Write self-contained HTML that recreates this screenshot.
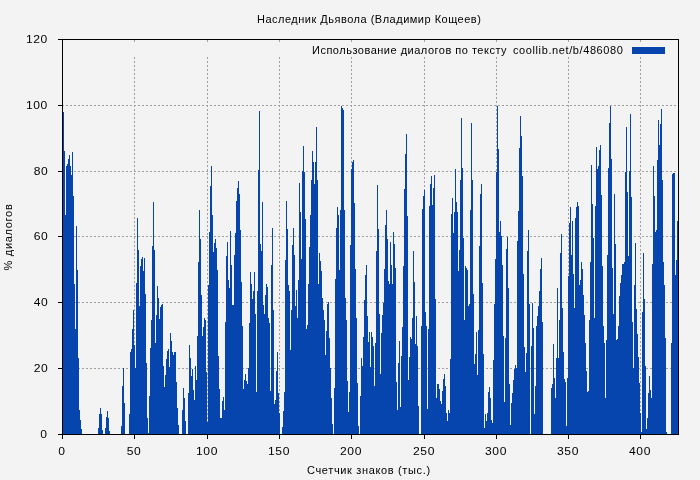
<!DOCTYPE html>
<html><head><meta charset="utf-8">
<style>
html,body{margin:0;padding:0;}
body{width:700px;height:480px;background:#f3f3f3;overflow:hidden;position:relative;font-family:"Liberation Sans",sans-serif;color:#000;}
svg{position:absolute;left:0;top:0;}
.t{position:absolute;white-space:nowrap;font-size:11px;line-height:12px;will-change:transform;}
</style></head><body>
<svg width="700" height="480" viewBox="0 0 700 480">
<g shape-rendering="crispEdges">
<!-- grid -->
<g stroke="#a0a0a0" stroke-width="1" stroke-dasharray="2,2" fill="none">
<path d="M62 368.5H678M62 302.5H678M62 236.5H678M62 171.5H678M62 105.5H678"/>
<path d="M134.5 435V57M207.5 435V57M279.5 435V57M351.5 435V57M424.5 435V57M496.5 435V57M568.5 435V57M640.5 435V57"/>
<path d="M134.5 40V42M207.5 40V42M279.5 40V42M351.5 40V42M424.5 40V42M496.5 40V42M568.5 40V42M640.5 40V42"/>
</g>
<!-- data -->
<path fill="#0645ad" d="M63 435V112H64V151H65V215H66V166H67V164H68V159H69V155H70V166H71V175H72V152H73V196H74V284H75V329H76V226H77V270H78V358H79V410H80V420H81V429H82V434H83V434H84V434H85V434H86V434H87V434H88V434H89V434H90V434H91V434H92V434H93V434H94V434H95V434H96V434H97V434H98V428H99V414H100V408H101V414H102V430H103V434H104V434H105V428H106V417H107V411H108V418H109V431H110V434H111V434H112V434H113V434H114V434H115V434H116V434H117V434H118V434H119V434H120V434H121V426H122V386H123V368H124V403H125V434H126V434H127V434H128V434H129V414H130V352H131V349H132V329H133V310H134V345H135V368H136V283H137V218H138V250H139V306H140V266H141V259H142V257H143V271H144V258H145V294H146V363H147V418H148V433H149V396H150V348H151V320H152V246H153V202H154V250H155V343H156V315H157V286H158V298H159V319H160V307H161V305H162V304H163V366H164V387H165V375H166V359H167V351H168V349H169V367H170V333H171V341H172V352H173V355H174V352H175V352H176V382H177V408H178V425H179V434H180V434H181V434H182V410H183V388H184V398H185V421H186V434H187V434H188V393H189V345H190V358H191V376H192V369H193V390H194V400H195V366H196V380H197V336H198V262H199V210H200V239H201V295H202V336H203V327H204V318H205V320H206V372H207V422H208V285H209V232H210V186H211V166H212V215H213V252H214V243H215V239H216V248H217V270H218V356H219V389H220V418H221V418H222V401H223V397H224V410H225V322H226V256H227V242H228V280H229V288H230V231H231V265H232V305H233V305H234V255H235V233H236V201H237V188H238V181H239V194H240V230H241V282H242V326H243V389H244V380H245V374H246V381H247V384H248V368H249V323H250V272H251V284H252V299H253V291H254V272H255V314H256V392H257V291H258V170H259V111H260V244H261V251H262V202H263V305H264V314H265V295H266V284H267V287H268V318H269V323H270V391H271V265H272V228H273V310H274V404H275V400H276V371H277V352H278V393H279V413H280V434H281V434H282V427H283V411H284V392H285V260H286V201H287V229H288V285H289V291H290V350H291V310H292V245H293V228H294V255H295V306H296V290H297V318H298V280H299V183H300V212H301V259H302V171H303V146H304V172H305V219H306V329H307V325H308V284H309V247H310V215H311V180H312V151H313V162H314V184H315V162H316V127H317V180H318V284H319V253H320V261H321V271H322V298H323V310H324V320H325V355H326V331H327V304H328V302H329V338H330V368H331V398H332V424H333V434H334V388H335V279H336V228H337V207H338V215H339V270H340V210H341V106H342V108H343V110H344V210H345V298H346V320H347V381H348V412H349V392H350V245H351V169H352V162H353V160H354V203H355V269H356V318H357V383H358V426H359V434H360V396H361V358H362V366H363V337H364V300H365V275H366V265H367V316H368V342H369V332H370V367H371V332H372V337H373V346H374V386H375V343H376V251H377V185H378V229H379V314H380V374H381V333H382V315H383V303H384V269H385V225H386V210H387V239H388V281H389V284H390V242H391V265H392V284H393V232H394V244H395V268H396V382H397V410H398V363H399V341H400V407H401V356H402V327H403V266H404V189H405V154H406V134H407V216H408V380H409V357H410V337H411V339H412V318H413V251H414V282H415V344H416V316H417V346H418V406H419V434H420V434H421V326H422V209H423V196H424V190H425V312H426V326H427V409H428V329H429V206H430V184H431V176H432V205H433V188H434V175H435V299H436V398H437V384H438V384H439V389H440V401H441V404H442V391H443V379H444V374H445V386H446V413H447V421H448V410H449V413H450V359H451V214H452V198H453V233H454V212H455V169H456V202H457V212H458V271H459V250H460V180H461V118H462V168H463V238H464V320H465V266H466V268H467V270H468V306H469V304H470V210H471V123H472V180H473V294H474V364H475V354H476V332H477V375H478V330H479V246H480V194H481V184H482V283H483V354H484V428H485V414H486V421H487V413H488V392H489V387H490V398H491V420H492V423H493V360H494V304H495V259H496V172H497V106H498V149H499V232H500V221H501V236H502V265H503V336H504V402H505V338H506V249H507V237H508V288H509V384H510V425H511V403H512V393H513V380H514V369H515V365H516V368H517V241H518V211H519V148H520V116H521V136H522V176H523V274H524V347H525V372H526V353H527V251H528V230H529V304H530V434H531V346H532V303H533V328H534V414H535V386H536V326H537V316H538V306H539V291H540V269H541V258H542V322H543V434H544V434H545V434H546V434H547V434H548V434H549V434H550V434H551V388H552V384H553V344H554V378H555V398H556V358H557V288H558V358H559V320H560V253H561V234H562V308H563V352H564V379H565V382H566V426H567V378H568V276H569V223H570V207H571V255H572V221H573V274H574V308H575V218H576V207H577V202H578V206H579V285H580V280H581V262H582V269H583V295H584V315H585V343H586V371H587V392H588V391H589V320H590V262H591V165H592V204H593V238H594V318H595V206H596V147H597V169H598V166H599V150H600V145H601V195H602V266H603V326H604V343H605V398H606V340H607V255H608V168H609V123H610V106H611V159H612V268H613V314H614V194H615V244H616V340H617V339H618V326H619V296H620V283H621V275H622V264H623V264H624V262H625V172H626V127H627V192H628V256H629V171H630V114H631V197H632V322H633V368H634V285H635V243H636V309H637V334H638V357H639V383H640V413H641V432H642V312H643V253H644V299H645V366H646V429H647V418H648V393H649V376H650V390H651V398H652V264H653V166H654V196H655V232H656V230H657V160H658V120H659V145H660V124H661V109H662V180H663V262H664V285H665V338H666V432H667V434H668V434H669V434H670V434H671V343H672V174H673V173H674V173H675V275H676V260H677V221H678V435Z"/>
<!-- legend swatch -->
<rect x="632" y="47" width="33" height="7" fill="#0645ad"/>
<!-- axes -->
<g stroke="#000" stroke-width="1" fill="none">
<path d="M62.5 39.5H678.5V434.5H62.5Z"/>
<path d="M58 434.5H62M58 368.5H62M58 302.5H62M58 236.5H62M58 171.5H62M58 105.5H62M58 39.5H62"/>
<path d="M62.5 434V439M134.5 434V439M207.5 434V439M279.5 434V439M351.5 434V439M424.5 434V439M496.5 434V439M568.5 434V439M640.5 434V439"/>
</g>
</g>
</svg>
<div class="t" id="title" style="left:257px;top:13px;letter-spacing:0.5px;">Наследник Дьявола (Владимир Кощеев)</div>
<div class="t" id="leg1" style="left:312px;top:44px;letter-spacing:0.5px;">Использование диалогов по тексту</div>
<div class="t" id="leg2" style="left:513px;top:44px;letter-spacing:0.6px;">coollib.net/b/486080</div>
<div class="t" id="xl" style="left:306.5px;top:464px;letter-spacing:0.65px;">Счетчик знаков (тыс.)</div>
<div class="t" id="yl" style="left:-32px;top:231px;width:80px;height:12px;text-align:center;letter-spacing:0.7px;transform:rotate(-90deg);">% диалогов</div>
<div class="t yt" style="right:652px;transform:scaleX(1.1);transform-origin:100% 50%;top:428px;letter-spacing:0.5px;">0</div>
<div class="t yt" style="right:652px;transform:scaleX(1.1);transform-origin:100% 50%;top:362px;letter-spacing:0.5px;">20</div>
<div class="t yt" style="right:652px;transform:scaleX(1.1);transform-origin:100% 50%;top:296px;letter-spacing:0.5px;">40</div>
<div class="t yt" style="right:652px;transform:scaleX(1.1);transform-origin:100% 50%;top:230px;letter-spacing:0.5px;">60</div>
<div class="t yt" style="right:652px;transform:scaleX(1.1);transform-origin:100% 50%;top:165px;letter-spacing:0.5px;">80</div>
<div class="t yt" style="right:652px;transform:scaleX(1.1);transform-origin:100% 50%;top:99px;letter-spacing:0.5px;">100</div>
<div class="t yt" style="right:652px;transform:scaleX(1.1);transform-origin:100% 50%;top:33px;letter-spacing:0.5px;">120</div>
<div class="t xt" style="left:62px;top:445px;letter-spacing:0.5px;transform:translateX(-50%) scaleX(1.1);">0</div>
<div class="t xt" style="left:134px;top:445px;letter-spacing:0.5px;transform:translateX(-50%) scaleX(1.1);">50</div>
<div class="t xt" style="left:207px;top:445px;letter-spacing:0.5px;transform:translateX(-50%) scaleX(1.1);">100</div>
<div class="t xt" style="left:279px;top:445px;letter-spacing:0.5px;transform:translateX(-50%) scaleX(1.1);">150</div>
<div class="t xt" style="left:351px;top:445px;letter-spacing:0.5px;transform:translateX(-50%) scaleX(1.1);">200</div>
<div class="t xt" style="left:424px;top:445px;letter-spacing:0.5px;transform:translateX(-50%) scaleX(1.1);">250</div>
<div class="t xt" style="left:496px;top:445px;letter-spacing:0.5px;transform:translateX(-50%) scaleX(1.1);">300</div>
<div class="t xt" style="left:568px;top:445px;letter-spacing:0.5px;transform:translateX(-50%) scaleX(1.1);">350</div>
<div class="t xt" style="left:640px;top:445px;letter-spacing:0.5px;transform:translateX(-50%) scaleX(1.1);">400</div>
</body></html>
